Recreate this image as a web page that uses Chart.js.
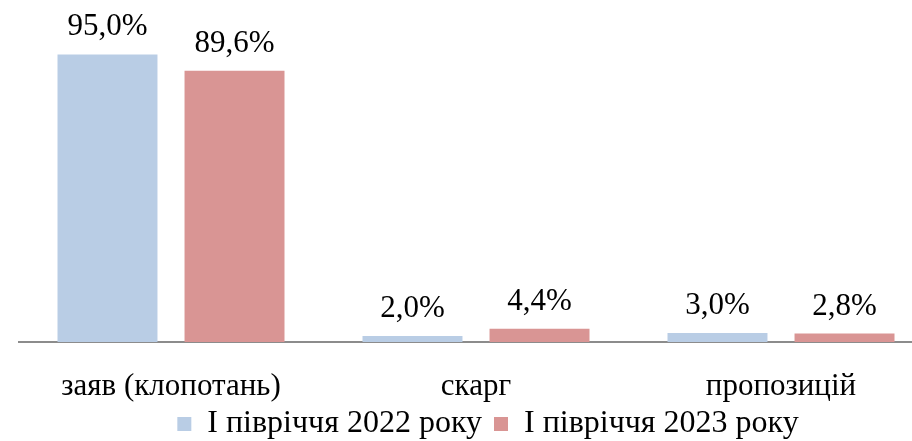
<!DOCTYPE html>
<html>
<head>
<meta charset="utf-8">
<script src="https://cdn.jsdelivr.net/npm/chart.js@4"></script>
<style>
  html, body { margin: 0; padding: 0; background: #ffffff; overflow: hidden; }
  #wrap { position: absolute; left: 0; top: 0; width: 960px; height: 441px; }
</style>
</head>
<body>
<div id="wrap"><canvas id="c" width="960" height="441"></canvas></div>
<script>
const categories = ['заяв (клопотань)', 'скарг', 'пропозицій'];
const seriesNames = ['І півріччя 2022 року', 'І півріччя 2023 року'];
const values2022 = [95.0, 2.0, 3.0];
const values2023 = [89.6, 4.4, 2.8];

const FONT = '"Liberation Serif", "Times New Roman", serif';

const dataLabels = {
  id: 'dataLabels',
  afterDatasetsDraw(chart) {
    const ctx = chart.ctx;
    ctx.save();
    ctx.font = '31px ' + FONT;
    ctx.fillStyle = '#000000';
    ctx.textAlign = 'center';
    ctx.textBaseline = 'alphabetic';
    chart.data.datasets.forEach((ds, i) => {
      const meta = chart.getDatasetMeta(i);
      meta.data.forEach((el, j) => {
        const txt = ds.data[j].toFixed(1).replace('.', ',') + '%';
        ctx.fillText(txt, el.x, el.y - 19);
      });
    });
    ctx.restore();
  }
};

const legendShift = {
  id: 'legendShift',
  afterLayout(chart) {
    const lg = chart.legend;
    if (lg) {
      lg.left += 12; lg.right += 12;
      lg.top -= 12; lg.bottom -= 12;
    }
  }
};

new Chart(document.getElementById('c'), {
  type: 'bar',
  data: {
    labels: categories,
    datasets: [
      { label: seriesNames[0], data: values2022, backgroundColor: '#B9CDE5', borderWidth: 0 },
      { label: seriesNames[1], data: values2023, backgroundColor: '#D99594', borderWidth: 0 }
    ]
  },
  options: {
    responsive: false,
    animation: false,
    devicePixelRatio: 1,
    layout: { padding: { left: 18.5, right: 26.5, top: 0, bottom: -21 } },
    datasets: { bar: { categoryPercentage: 0.833, barPercentage: 0.787 } },
    scales: {
      x: {
        grid: { display: false, drawTicks: false },
        border: { display: true, color: '#8C8C8C', width: 2 },
        ticks: { color: '#000000', font: { family: FONT, size: 31 }, padding: 26 },
        afterFit(scale) { scale.height = 66; }
      },
      y: { display: false, min: 0, max: 113 }
    },
    plugins: {
      legend: {
        position: 'bottom',
        labels: {
          color: '#000000',
          font: { family: FONT, size: 32 },
          boxWidth: 14,
          boxHeight: 14,
          padding: 12
        }
      },
      tooltip: { enabled: false }
    }
  },
  plugins: [dataLabels, legendShift]
});
</script>
</body>
</html>
